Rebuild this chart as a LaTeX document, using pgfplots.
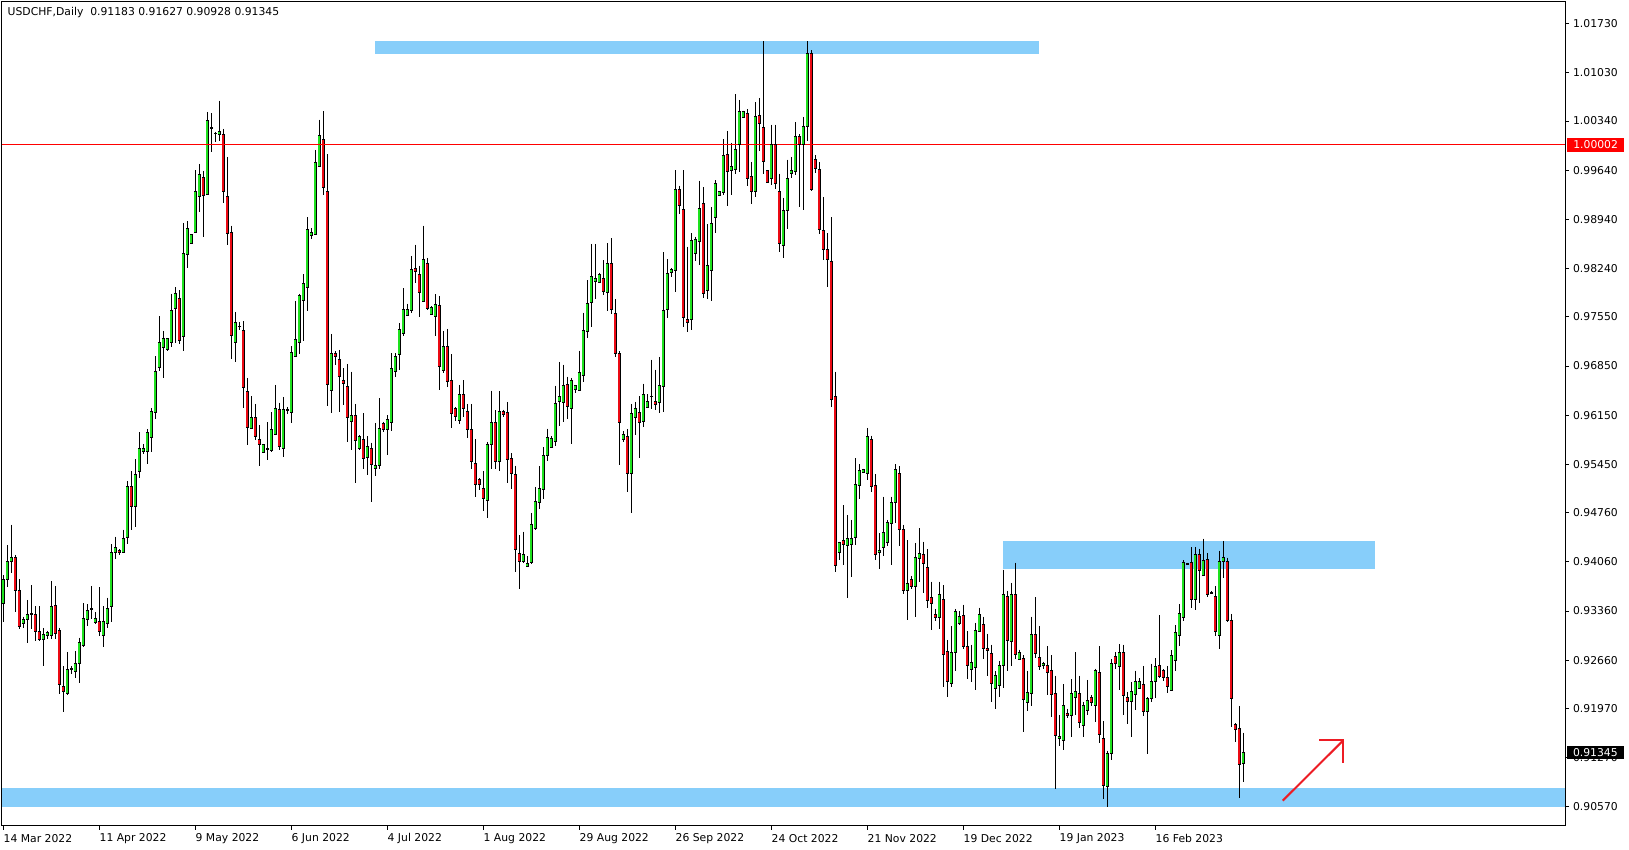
\documentclass[border=0pt]{standalone}
\usepackage{fontspec}
\setmainfont{DejaVu Sans}
\usepackage{pgfplots}
\usepackage{pgfplotstable}
\pgfplotsset{compat=1.18}
\definecolor{bull}{RGB}{30,225,30}
\definecolor{bear}{RGB}{235,10,20}
\definecolor{zone}{RGB}{135,206,250}
\definecolor{arrowred}{RGB}{237,28,36}
\pgfplotstableread{
x o h l c
0 0.9347 0.9387 0.9320 0.9381
1 0.9381 0.9430 0.9370 0.9406
2 0.9407 0.9459 0.9390 0.9413
3 0.9413 0.9416 0.9334 0.9366
4 0.9366 0.9381 0.9311 0.9314
5 0.9319 0.9328 0.9312 0.9324
6 0.9324 0.9352 0.9291 0.9331
7 0.9331 0.9373 0.9311 0.9332
8 0.9331 0.9343 0.9294 0.9307
9 0.9307 0.9343 0.9294 0.9296
10 0.9296 0.9312 0.9257 0.9302
11 0.9301 0.9308 0.9296 0.9306
12 0.9301 0.9379 0.9296 0.9343
13 0.9344 0.9372 0.9296 0.9304
14 0.9308 0.9312 0.9218 0.9231
15 0.9228 0.9257 0.9192 0.9222
16 0.9218 0.9278 0.9217 0.9253
17 0.9253 0.9258 0.9246 0.9254
18 0.9250 0.9279 0.9241 0.9262
19 0.9261 0.9298 0.9234 0.9291
20 0.9287 0.9347 0.9285 0.9326
21 0.9324 0.9346 0.9314 0.9337
22 0.9338 0.9372 0.9324 0.9339
23 0.9320 0.9334 0.9317 0.9326
24 0.9321 0.9370 0.9301 0.9307
25 0.9301 0.9343 0.9285 0.9321
26 0.9318 0.9355 0.9312 0.9339
27 0.9343 0.9431 0.9321 0.9419
28 0.9419 0.9442 0.9410 0.9426
29 0.9423 0.9424 0.9416 0.9419
30 0.9419 0.9452 0.9418 0.9440
31 0.9441 0.9521 0.9432 0.9513
32 0.9513 0.9535 0.9452 0.9485
33 0.9485 0.9552 0.9456 0.9531
34 0.9535 0.9591 0.9526 0.9568
35 0.9564 0.9574 0.9560 0.9568
36 0.9564 0.9595 0.9545 0.9590
37 0.9583 0.9625 0.9562 0.9621
38 0.9619 0.9699 0.9610 0.9677
39 0.9683 0.9756 0.9678 0.9719
40 0.9712 0.9735 0.9668 0.9725
41 0.9709 0.9724 0.9706 0.9724
42 0.9719 0.9788 0.9712 0.9764
43 0.9767 0.9797 0.9718 0.9788
44 0.9781 0.9793 0.9717 0.9721
45 0.9727 0.9889 0.9707 0.9845
46 0.9844 0.9891 0.9825 0.9881
47 0.9860 0.9873 0.9859 0.9872
48 0.9875 0.9964 0.9874 0.9933
49 0.9926 0.9973 0.9904 0.9958
50 0.9953 0.9963 0.9869 0.9928
51 0.9930 1.0047 0.9929 1.0035
52 1.0025 1.0045 0.9990 1.0024
53 1.0016 1.0019 1.0004 1.0017
54 1.0015 1.0063 1.0005 1.0019
55 1.0015 1.0023 0.9917 0.9933
56 0.9926 0.9983 0.9858 0.9874
57 0.9876 0.9885 0.9695 0.9728
58 0.9719 0.9762 0.9691 0.9747
59 0.9741 0.9748 0.9736 0.9742
60 0.9736 0.9749 0.9625 0.9655
61 0.9649 0.9668 0.9572 0.9598
62 0.9596 0.9642 0.9595 0.9612
63 0.9612 0.9631 0.9580 0.9584
64 0.9581 0.9601 0.9542 0.9573
65 0.9562 0.9574 0.9561 0.9573
66 0.9566 0.9605 0.9551 0.9567
67 0.9565 0.9619 0.9563 0.9594
68 0.9588 0.9658 0.9587 0.9625
69 0.9623 0.9633 0.9566 0.9570
70 0.9567 0.9641 0.9555 0.9623
71 0.9622 0.9627 0.9616 0.9623
72 0.9619 0.9713 0.9604 0.9705
73 0.9698 0.9778 0.9698 0.9723
74 0.9718 0.9788 0.9702 0.9785
75 0.9778 0.9816 0.9721 0.9803
76 0.9797 0.9897 0.9764 0.9880
77 0.9871 0.9881 0.9866 0.9876
78 0.9873 0.9993 0.9871 0.9975
79 0.9969 1.0036 0.9969 1.0014
80 1.0008 1.0048 0.9929 0.9939
81 0.9934 0.9987 0.9628 0.9659
82 0.9650 0.9731 0.9618 0.9703
83 0.9703 0.9706 0.9687 0.9698
84 0.9694 0.9708 0.9620 0.9670
85 0.9665 0.9682 0.9630 0.9660
86 0.9656 0.9688 0.9577 0.9612
87 0.9606 0.9677 0.9566 0.9614
88 0.9614 0.9631 0.9519 0.9579
89 0.9567 0.9587 0.9565 0.9584
90 0.9580 0.9618 0.9539 0.9554
91 0.9555 0.9585 0.9530 0.9570
92 0.9567 0.9576 0.9492 0.9545
93 0.9539 0.9604 0.9528 0.9544
94 0.9543 0.9639 0.9539 0.9596
95 0.9603 0.9606 0.9591 0.9594
96 0.9594 0.9615 0.9558 0.9609
97 0.9604 0.9703 0.9592 0.9682
98 0.9677 0.9703 0.9669 0.9699
99 0.9702 0.9746 0.9680 0.9737
100 0.9732 0.9796 0.9728 0.9765
101 0.9757 0.9774 0.9757 0.9765
102 0.9764 0.9842 0.9761 0.9823
103 0.9824 0.9858 0.9803 0.9820
104 0.9815 0.9828 0.9755 0.9790
105 0.9777 0.9885 0.9777 0.9837
106 0.9831 0.9839 0.9765 0.9767
107 0.9759 0.9770 0.9758 0.9768
108 0.9755 0.9787 0.9728 0.9773
109 0.9772 0.9785 0.9651 0.9684
110 0.9679 0.9735 0.9675 0.9713
111 0.9713 0.9738 0.9655 0.9663
112 0.9664 0.9702 0.9597 0.9618
113 0.9625 0.9627 0.9607 0.9613
114 0.9607 0.9658 0.9603 0.9644
115 0.9644 0.9665 0.9613 0.9625
116 0.9621 0.9631 0.9582 0.9594
117 0.9594 0.9631 0.9539 0.9549
118 0.9546 0.9581 0.9499 0.9517
119 0.9523 0.9525 0.9509 0.9516
120 0.9510 0.9535 0.9479 0.9497
121 0.9493 0.9577 0.9468 0.9574
122 0.9574 0.9650 0.9539 0.9604
123 0.9604 0.9622 0.9539 0.9549
124 0.9549 0.9649 0.9535 0.9620
125 0.9620 0.9623 0.9613 0.9616
126 0.9619 0.9634 0.9519 0.9552
127 0.9554 0.9561 0.9510 0.9532
128 0.9531 0.9543 0.9391 0.9424
129 0.9418 0.9444 0.9368 0.9407
130 0.9407 0.9449 0.9404 0.9416
131 0.9399 0.9414 0.9399 0.9404
132 0.9405 0.9476 0.9403 0.9460
133 0.9454 0.9513 0.9452 0.9492
134 0.9491 0.9542 0.9481 0.9511
135 0.9509 0.9569 0.9495 0.9558
136 0.9558 0.9596 0.9550 0.9583
137 0.9569 0.9585 0.9568 0.9582
138 0.9577 0.9657 0.9571 0.9632
139 0.9634 0.9691 0.9600 0.9641
140 0.9633 0.9687 0.9605 0.9658
141 0.9659 0.9670 0.9610 0.9627
142 0.9625 0.9668 0.9574 0.9664
143 0.9652 0.9658 0.9647 0.9657
144 0.9650 0.9707 0.9650 0.9676
145 0.9671 0.9761 0.9662 0.9735
146 0.9734 0.9807 0.9725 0.9774
147 0.9775 0.9859 0.9741 0.9813
148 0.9805 0.9859 0.9780 0.9810
149 0.9804 0.9818 0.9803 0.9815
150 0.9810 0.9836 0.9786 0.9791
151 0.9790 0.9860 0.9763 0.9831
152 0.9831 0.9867 0.9759 0.9766
153 0.9760 0.9780 0.9698 0.9703
154 0.9703 0.9706 0.9544 0.9605
155 0.9581 0.9592 0.9577 0.9587
156 0.9584 0.9595 0.9506 0.9532
157 0.9532 0.9631 0.9476 0.9618
158 0.9612 0.9634 0.9587 0.9624
159 0.9619 0.9642 0.9554 0.9605
160 0.9606 0.9660 0.9598 0.9644
161 0.9626 0.9645 0.9625 0.9634
162 0.9642 0.9694 0.9624 0.9641
163 0.9634 0.9680 0.9622 0.9631
164 0.9633 0.9698 0.9618 0.9657
165 0.9656 0.9847 0.9619 0.9764
166 0.9766 0.9837 0.9753 0.9817
167 0.9818 0.9824 0.9812 0.9822
168 0.9821 0.9964 0.9790 0.9937
169 0.9937 0.9942 0.9902 0.9914
170 0.9908 0.9964 0.9741 0.9754
171 0.9751 0.9855 0.9734 0.9747
172 0.9751 0.9874 0.9736 0.9864
173 0.9846 0.9869 0.9834 0.9866
174 0.9862 0.9949 0.9829 0.9910
175 0.9917 0.9940 0.9782 0.9788
176 0.9792 0.9887 0.9781 0.9829
177 0.9821 0.9911 0.9778 0.9888
178 0.9897 0.9950 0.9875 0.9945
179 0.9928 0.9933 0.9927 0.9933
180 0.9932 1.0008 0.9929 0.9985
181 0.9987 1.0020 0.9913 0.9962
182 0.9964 1.0003 0.9929 0.9969
183 0.9965 1.0072 0.9958 0.9993
184 1.0000 1.0064 0.9962 1.0047
185 1.0039 1.0049 1.0039 1.0047
186 1.0045 1.0051 0.9942 0.9952
187 0.9955 0.9976 0.9916 0.9933
188 0.9933 1.0061 0.9926 1.0041
189 1.0042 1.0067 0.9992 1.0030
190 1.0025 1.0148 0.9959 0.9976
191 0.9963 0.9964 0.9947 0.9947
192 0.9952 1.0029 0.9943 1.0000
193 1.0000 1.0029 0.9937 0.9945
194 0.9934 0.9959 0.9848 0.9859
195 0.9857 0.9925 0.9839 0.9906
196 0.9906 0.9979 0.9880 0.9952
197 0.9959 0.9983 0.9953 0.9963
198 0.9962 1.0032 0.9957 1.0012
199 1.0012 1.0015 0.9912 1.0000
200 1.0000 1.0040 0.9907 1.0027
201 1.0027 1.0148 1.0005 1.0131
202 1.0131 1.0135 0.9935 0.9936
203 0.9979 0.9985 0.9960 0.9966
204 0.9965 0.9975 0.9873 0.9880
205 0.9878 0.9926 0.9836 0.9851
206 0.9851 0.9874 0.9798 0.9837
207 0.9834 0.9897 0.9626 0.9637
208 0.9641 0.9677 0.9391 0.9401
209 0.9420 0.9435 0.9408 0.9433
210 0.9436 0.9487 0.9401 0.9431
211 0.9430 0.9473 0.9354 0.9439
212 0.9431 0.9466 0.9384 0.9440
213 0.9441 0.9554 0.9430 0.9516
214 0.9515 0.9545 0.9495 0.9536
215 0.9534 0.9539 0.9532 0.9537
216 0.9532 0.9597 0.9523 0.9584
217 0.9581 0.9586 0.9505 0.9514
218 0.9515 0.9531 0.9408 0.9417
219 0.9420 0.9447 0.9396 0.9423
220 0.9426 0.9499 0.9414 0.9448
221 0.9433 0.9466 0.9429 0.9462
222 0.9461 0.9499 0.9402 0.9490
223 0.9490 0.9545 0.9461 0.9538
224 0.9532 0.9542 0.9429 0.9452
225 0.9452 0.9459 0.9360 0.9366
226 0.9366 0.9437 0.9323 0.9376
227 0.9381 0.9386 0.9367 0.9371
228 0.9371 0.9433 0.9328 0.9413
229 0.9411 0.9454 0.9378 0.9418
230 0.9417 0.9435 0.9361 0.9404
231 0.9398 0.9424 0.9341 0.9351
232 0.9356 0.9378 0.9309 0.9347
233 0.9331 0.9339 0.9322 0.9327
234 0.9327 0.9378 0.9310 0.9359
235 0.9353 0.9373 0.9228 0.9274
236 0.9278 0.9295 0.9213 0.9235
237 0.9233 0.9315 0.9228 0.9277
238 0.9277 0.9339 0.9251 0.9336
239 0.9318 0.9336 0.9316 0.9328
240 0.9330 0.9345 0.9282 0.9285
241 0.9286 0.9307 0.9239 0.9258
242 0.9253 0.9288 0.9235 0.9263
243 0.9255 0.9319 0.9224 0.9309
244 0.9307 0.9341 0.9306 0.9331
245 0.9317 0.9328 0.9267 0.9283
246 0.9283 0.9304 0.9243 0.9280
247 0.9275 0.9288 0.9207 0.9233
248 0.9226 0.9250 0.9197 0.9244
249 0.9230 0.9265 0.9214 0.9258
250 0.9258 0.9395 0.9227 0.9359
251 0.9357 0.9365 0.9250 0.9294
252 0.9292 0.9376 0.9258 0.9359
253 0.9360 0.9405 0.9267 0.9274
254 0.9267 0.9281 0.9266 0.9277
255 0.9269 0.9273 0.9164 0.9210
256 0.9206 0.9251 0.9193 0.9220
257 0.9218 0.9328 0.9201 0.9303
258 0.9303 0.9356 0.9269 0.9276
259 0.9270 0.9315 0.9252 0.9257
260 0.9259 0.9264 0.9254 0.9261
261 0.9258 0.9286 0.9216 0.9249
262 0.9251 0.9273 0.9185 0.9217
263 0.9219 0.9244 0.9082 0.9159
264 0.9155 0.9188 0.9144 0.9158
265 0.9151 0.9232 0.9138 0.9201
266 0.9190 0.9197 0.9183 0.9187
267 0.9187 0.9239 0.9157 0.9219
268 0.9213 0.9277 0.9188 0.9222
269 0.9218 0.9244 0.9169 0.9178
270 0.9173 0.9207 0.9156 0.9201
271 0.9194 0.9238 0.9188 0.9209
272 0.9213 0.9216 0.9201 0.9206
273 0.9201 0.9254 0.9178 0.9251
274 0.9249 0.9286 0.9148 0.9160
275 0.9155 0.9179 0.9068 0.9087
276 0.9086 0.9137 0.9057 0.9133
277 0.9133 0.9267 0.9124 0.9261
278 0.9272 0.9277 0.9254 0.9261
279 0.9257 0.9289 0.9224 0.9277
280 0.9277 0.9288 0.9188 0.9216
281 0.9213 0.9221 0.9175 0.9207
282 0.9207 0.9235 0.9157 0.9222
283 0.9217 0.9251 0.9195 0.9236
284 0.9226 0.9240 0.9225 0.9236
285 0.9231 0.9258 0.9187 0.9193
286 0.9193 0.9213 0.9132 0.9212
287 0.9212 0.9261 0.9206 0.9236
288 0.9235 0.9269 0.9212 0.9257
289 0.9258 0.9330 0.9240 0.9243
290 0.9251 0.9253 0.9237 0.9241
291 0.9242 0.9258 0.9219 0.9228
292 0.9223 0.9280 0.9223 0.9273
293 0.9265 0.9316 0.9250 0.9306
294 0.9301 0.9346 0.9286 0.9333
295 0.9327 0.9408 0.9322 0.9405
296 0.9404 0.9405 0.9402 0.9403
297 0.9405 0.9427 0.9340 0.9353
298 0.9353 0.9427 0.9338 0.9416
299 0.9417 0.9425 0.9348 0.9394
300 0.9386 0.9439 0.9386 0.9408
301 0.9410 0.9419 0.9356 0.9359
302 0.9362 0.9364 0.9360 0.9361
303 0.9357 0.9372 0.9300 0.9307
304 0.9301 0.9422 0.9282 0.9407
305 0.9406 0.9436 0.9383 0.9413
306 0.9407 0.9412 0.9320 0.9322
307 0.9323 0.9332 0.9171 0.9212
308 0.9175 0.9176 0.9149 0.9168
309 0.9169 0.9201 0.9069 0.9118
310 0.91183 0.91627 0.90928 0.91345
}\candles

\begin{document}
\begin{tikzpicture}[x=1pt,y=1pt]
\fill[white] (0,0) rectangle (814.5,425);
\begin{axis}[
  at={(1pt,12pt)}, anchor=south west,
  scale only axis, width=781.5pt, height=412pt,
  xmin=-0.325, xmax=390.425, ymin=0.90298, ymax=1.02036,
  clip=false,
  axis line style={line width=0.5pt, black},
  tick align=outside, major tick length=2pt,
  tick style={black, line width=0.5pt},
  xtick pos=lower, ytick pos=right, yticklabel pos=right,
  xtick={0,24,48,72,96,120,144,168,192,216,240,264,288},
  xticklabels={14 Mar 2022, 11 Apr 2022, 9 May 2022, 6 Jun 2022, 4 Jul 2022, 1 Aug 2022, 29 Aug 2022, 26 Sep 2022, 24 Oct 2022, 21 Nov 2022, 19 Dec 2022, 19 Jan 2023, 16 Feb 2023},
  ytick={1.0173,1.0103,1.0034,0.9964,0.9894,0.9824,0.9755,0.9685,0.9615,0.9545,0.9476,0.9406,0.9336,0.9266,0.9197,0.9127,0.9057},
  yticklabels={1.01730,1.01030,1.00340,0.99640,0.98940,0.98240,0.97550,0.96850,0.96150,0.95450,0.94760,0.94060,0.93360,0.92660,0.91970,0.91270,0.90570},
  ticklabel style={font=\fontsize{5.4pt}{6.5pt}\selectfont, inner sep=0pt, black},
  xticklabel style={anchor=west, yshift=-4.2pt},
  yticklabel style={anchor=west, xshift=1.85pt},
  candle/.style={draw=none, mark=none, error bars/.cd, y dir=minus, y explicit, error mark=none},
]
% zones
\addplot[fill=zone, draw=none, mark=none] coordinates {(92.9,1.01296) (258.9,1.01296) (258.9,1.01474) (92.9,1.01474)};
\addplot[fill=zone, draw=none, mark=none] coordinates {(249.9,0.93964) (342.8,0.93964) (342.8,0.94358) (249.9,0.94358)};
\addplot[fill=zone, draw=none, mark=none] coordinates {(-0.325,0.90573) (390.425,0.90573) (390.425,0.90840) (-0.325,0.90840)};
% wicks
\addplot[candle, error bar style={draw=black, line width=0.5pt, solid}]
  table[x=x, y=h, y error minus expr=\thisrow{h}-\thisrow{l}] {\candles};
% body outline
\addplot[candle, error bar style={draw=black, line width=1.7pt, solid}]
  table[x=x, y expr={max(\thisrow{o},\thisrow{c})}, y error minus expr={abs(\thisrow{o}-\thisrow{c})}] {\candles};
% bull fill (zero length for bear candles)
\addplot[candle, error bar style={draw=bull, line width=0.9pt, solid}]
  table[x=x, y=c, y error minus expr={max(\thisrow{c}-\thisrow{o},0)}] {\candles};
% bear fill (zero length for bull candles)
\addplot[candle, error bar style={draw=bear, line width=0.9pt, solid}]
  table[x=x, y=o, y error minus expr={max(\thisrow{o}-\thisrow{c},0)}] {\candles};
% body ends
\addplot[only marks, mark=-, mark size=0.85pt, mark options={draw=black, line width=0.45pt, solid}]
  table[x=x, y=o] {\candles};
\addplot[only marks, mark=-, mark size=0.85pt, mark options={draw=black, line width=0.45pt, solid}]
  table[x=x, y=c] {\candles};
% red horizontal line
\addplot[red, line width=0.5pt, mark=none] coordinates {(-0.325,1.00002) (390.425,1.00002)};
% arrow
\addplot[arrowred, line width=1pt, mark=none] coordinates {(319.85,0.90659) (335.0,0.91518)};
\addplot[arrowred, line width=1pt, mark=none, line join=miter] coordinates {(329.0,0.91518) (335.0,0.91518) (335.0,0.91200)};
\end{axis}
\node[anchor=west, inner sep=0pt, font=\fontsize{5.4pt}{6.5pt}\selectfont] at (3.65,418.5) {USDCHF,Daily\ \ 0.91183 0.91627 0.90928 0.91345};
\node[anchor=west, fill=red, text=white, inner sep=0pt, minimum width=28.25pt, minimum height=6.75pt, font=\fontsize{5.4pt}{6.5pt}\selectfont] at (783.5,352.6) {1.00002};
\node[anchor=west, fill=black, text=white, inner sep=0pt, minimum width=28.25pt, minimum height=6.35pt, font=\fontsize{5.4pt}{6.5pt}\selectfont] at (783.35,48.75) {0.91345};
\pgfresetboundingbox
\path[use as bounding box] (0,0) rectangle (814.5,425);
\end{tikzpicture}
\end{document}
